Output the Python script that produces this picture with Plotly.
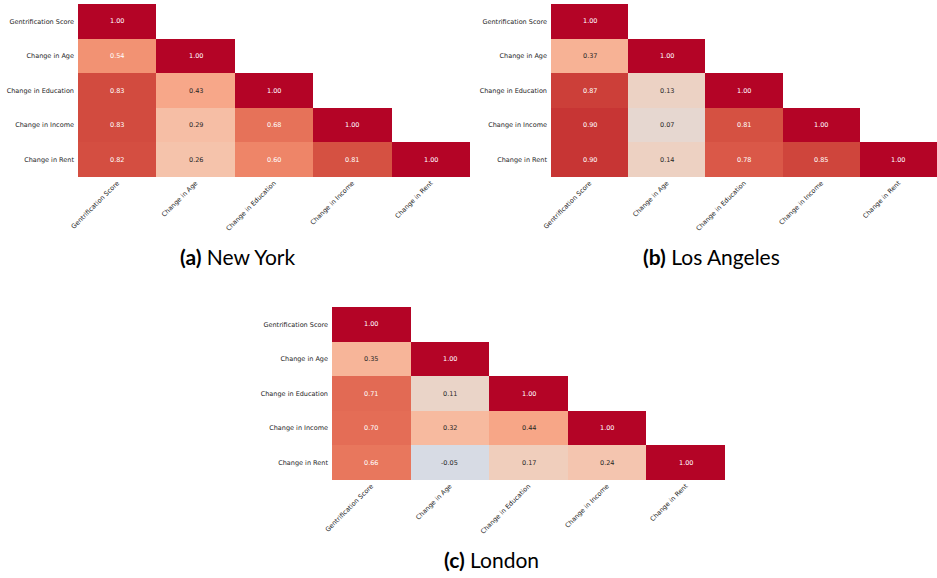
import math
import plotly.graph_objects as go

# Variables shown on both axes of every correlation matrix
variables = ["Gentrification Score", "Change in Age", "Change in Education",
             "Change in Income", "Change in Rent"]

# Lower-triangle correlations, row by row (diagonal included)
new_york = [
    [1.00],
    [0.54, 1.00],
    [0.83, 0.43, 1.00],
    [0.83, 0.29, 0.68, 1.00],
    [0.82, 0.26, 0.60, 0.81, 1.00],
]
los_angeles = [
    [1.00],
    [0.37, 1.00],
    [0.87, 0.13, 1.00],
    [0.90, 0.07, 0.81, 1.00],
    [0.90, 0.14, 0.78, 0.85, 1.00],
]
london = [
    [1.00],
    [0.35, 1.00],
    [0.71, 0.11, 1.00],
    [0.70, 0.32, 0.44, 1.00],
    [0.66, -0.05, 0.17, 0.24, 1.00],
]

captions = ["<b>(a)</b> New York", "<b>(b)</b> Los Angeles", "<b>(c)</b> London"]

# Moreland cool-warm diverging map
coolwarm_rgb = [
    (59, 76, 192), (68, 90, 204), (77, 104, 215), (87, 117, 225), (98, 130, 234),
    (108, 142, 241), (119, 154, 247), (130, 165, 251), (141, 176, 254), (152, 185, 255),
    (163, 194, 255), (174, 201, 253), (184, 208, 249), (194, 213, 244), (204, 217, 238),
    (213, 219, 230), (221, 221, 221), (229, 216, 209), (236, 211, 197), (241, 204, 185),
    (245, 196, 173), (247, 187, 160), (247, 177, 148), (247, 166, 135), (244, 154, 123),
    (241, 141, 111), (236, 127, 99), (229, 112, 88), (222, 96, 77), (213, 80, 66),
    (203, 62, 56), (192, 40, 47), (180, 4, 38),
]
n_stops = len(coolwarm_rgb) - 1
colorscale = [[i / n_stops, "rgb(%d,%d,%d)" % c] for i, c in enumerate(coolwarm_rgb)]


def cmap(v, vmin=-1.0, vmax=1.0):
    t = min(max((v - vmin) / (vmax - vmin), 0.0), 1.0) * n_stops
    i = min(int(math.floor(t)), n_stops - 1)
    f = t - i
    a, b = coolwarm_rgb[i], coolwarm_rgb[i + 1]
    return tuple(a[k] + (b[k] - a[k]) * f for k in range(3))


def luminance(rgb):
    out = []
    for c in rgb:
        c = c / 255.0
        out.append(c / 12.92 if c <= 0.03928 else ((c + 0.055) / 1.055) ** 2.4)
    return 0.2126 * out[0] + 0.7152 * out[1] + 0.0722 * out[2]


def full_matrix(tri):
    n = len(variables)
    z = [[None] * n for _ in range(n)]
    for r, row in enumerate(tri):
        for c, v in enumerate(row):
            z[r][c] = v
    return z


W, H = 937, 578
# panel boxes in pixels: (left, right, top, bottom)
panels = [(78, 470, 4, 177), (551, 937, 4, 177), (332, 725, 307, 480)]
caption_pos = [(237, 256), (711, 256), (492, 559)]

fig = go.Figure()
annotations = []
tick_font = dict(family="DejaVu Sans", size=6.5, color="#262626")

for k, (tri, (l, r, t, b)) in enumerate(zip([new_york, los_angeles, london], panels)):
    sfx = "" if k == 0 else str(k + 1)
    xa, ya = "x" + sfx, "y" + sfx
    fig.add_trace(go.Heatmap(
        z=full_matrix(tri), x=variables, y=variables,
        colorscale=colorscale, zmin=-1, zmax=1, showscale=False,
        hoverinfo="skip", xaxis=xa, yaxis=ya,
    ))
    for ri, row in enumerate(tri):
        for ci, v in enumerate(row):
            col = "#262626" if luminance(cmap(v)) > 0.408 else "white"
            annotations.append(dict(
                x=variables[ci], y=variables[ri], xref=xa, yref=ya,
                text="%.2f" % v, showarrow=False,
                font=dict(family="DejaVu Sans", size=6.5, color=col),
            ))
    fig.update_layout(**{
        "xaxis" + sfx: dict(domain=[l / W, r / W], anchor=ya, tickangle=-45,
                            showgrid=False, zeroline=False, ticks="",
                            automargin=False, tickfont=tick_font, fixedrange=True),
        "yaxis" + sfx: dict(domain=[1 - b / H, 1 - t / H], anchor=xa,
                            autorange="reversed", showgrid=False, zeroline=False,
                            ticks="", ticklabelstandoff=3, automargin=False,
                            tickfont=tick_font, fixedrange=True),
    })

for text, (cx, cy) in zip(captions, caption_pos):
    annotations.append(dict(
        x=cx / W, y=1 - cy / H, xref="paper", yref="paper", text=text,
        showarrow=False, xanchor="center", yanchor="middle",
        font=dict(family="Lato", size=21, color="black"),
    ))

fig.update_layout(
    width=W, height=H, margin=dict(l=0, r=0, t=0, b=0),
    paper_bgcolor="white", plot_bgcolor="white",
    annotations=annotations,
)

fig.write_html("out.html")
